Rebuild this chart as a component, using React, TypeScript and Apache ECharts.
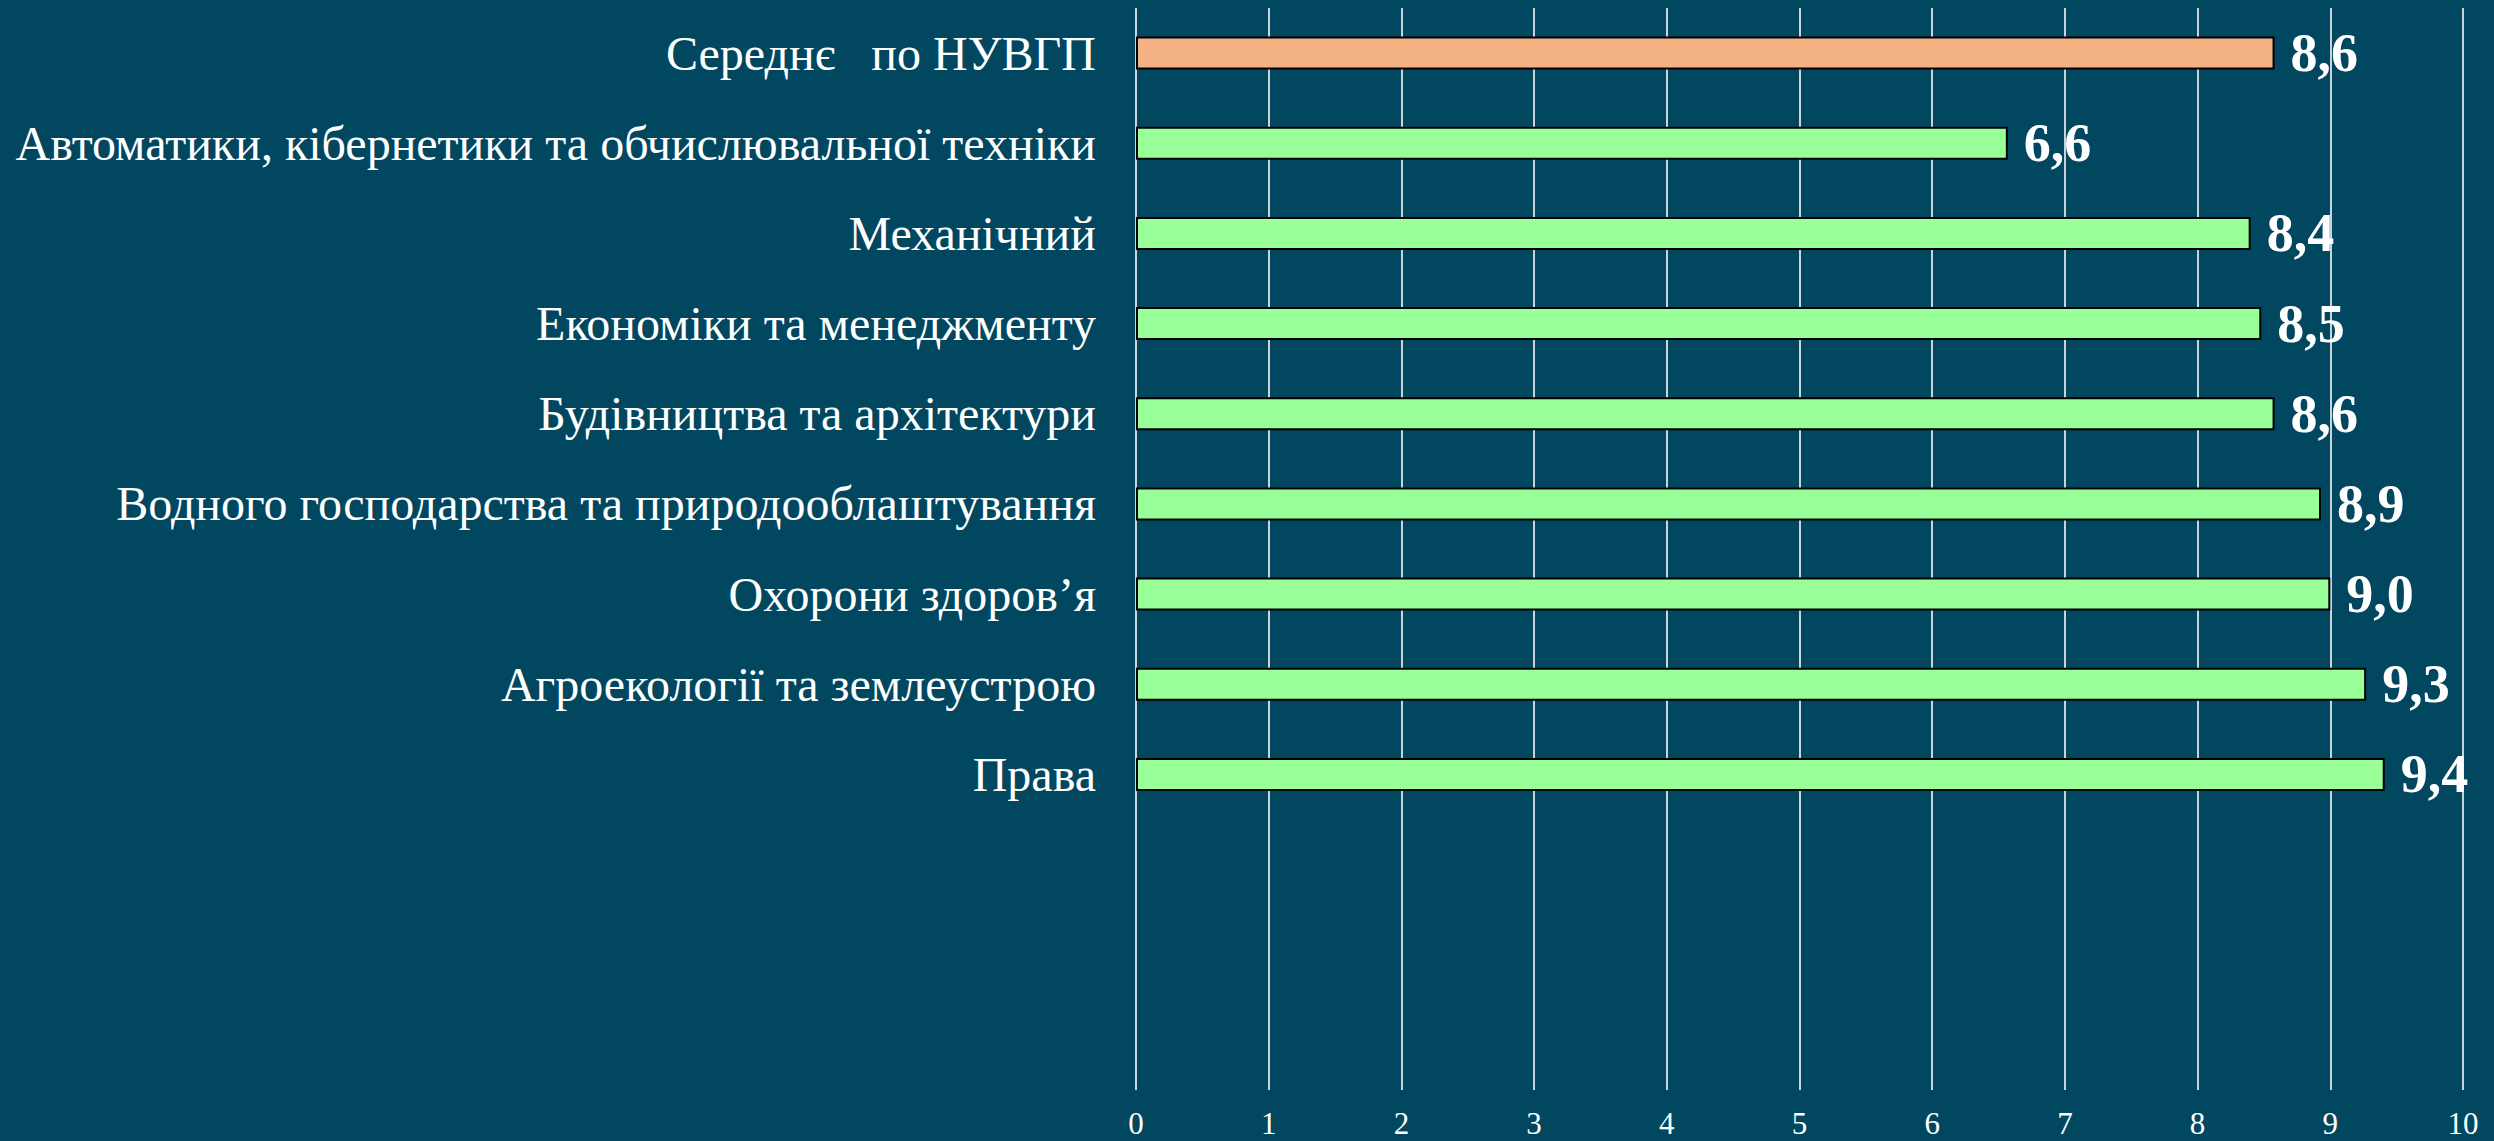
import React, { useEffect, useRef } from "react";
import * as echarts from "echarts";

const categories = [
  "Середнє   по НУВГП",
  "Автоматики, кібернетики та обчислювальної техніки",
  "Механічний",
  "Економіки та менеджменту",
  "Будівництва та архітектури",
  "Водного господарства та природооблаштування",
  "Охорони здоров’я",
  "Агроекології та землеустрою",
  "Права",
];
const values = [8.58, 6.57, 8.4, 8.48, 8.58, 8.93, 9.0, 9.27, 9.41];
const emptySlots = 3;
const xTicks = [0, 1, 2, 3, 4, 5, 6, 7, 8, 9, 10];

const BG = "#01475f";
const GREEN = "#99ff99";
const ORANGE = "#f4b183";

export default function App() {
  const ref = useRef<HTMLDivElement>(null);
  useEffect(() => {
    document.body.style.margin = "0";
    const chart = echarts.init(ref.current!, null, { renderer: "svg" });
    const cats = [...categories, ...Array(emptySlots).fill("")];
    const data = [
      ...values.map((v, i) => ({
        value: v,
        itemStyle: { color: i === 0 ? ORANGE : GREEN },
      })),
      ...Array(emptySlots).fill(null),
    ];
    chart.setOption({
      animation: false,
      backgroundColor: BG,
      grid: { left: 1136, right: 31, top: 8, bottom: 51, containLabel: false },
      xAxis: {
        type: "value",
        min: xTicks[0],
        max: xTicks[xTicks.length - 1],
        interval: 1,
        axisLine: { show: false },
        axisTick: { show: false },
        splitLine: { show: true, lineStyle: { color: "#c9d3d8", width: 2 } },
        axisLabel: {
          color: "#ffffff",
          fontFamily: "Liberation Serif",
          fontSize: 31,
          margin: 18,
        },
      },
      yAxis: {
        type: "category",
        inverse: true,
        data: cats,
        axisLine: { show: false },
        axisTick: { show: false },
        axisLabel: {
          color: "#ffffff",
          fontFamily: "Liberation Serif",
          fontSize: 48,
          margin: 40,
          interval: 0,
        },
      },
      series: [
        {
          type: "bar",
          data,
          barWidth: 33,
          itemStyle: { borderColor: "#000000", borderWidth: 2 },
          label: {
            show: true,
            position: "right",
            distance: 16,
            color: "#ffffff",
            fontFamily: "Liberation Serif",
            fontWeight: "bold",
            fontSize: 54,
            formatter: (p: any) => Number(p.value).toFixed(1).replace(".", ","),
          },
        },
      ],
    });
    return () => chart.dispose();
  }, []);
  return (
    <div
      ref={ref}
      style={{ position: "fixed", left: 0, top: 0, width: 2494, height: 1141 }}
    />
  );
}
